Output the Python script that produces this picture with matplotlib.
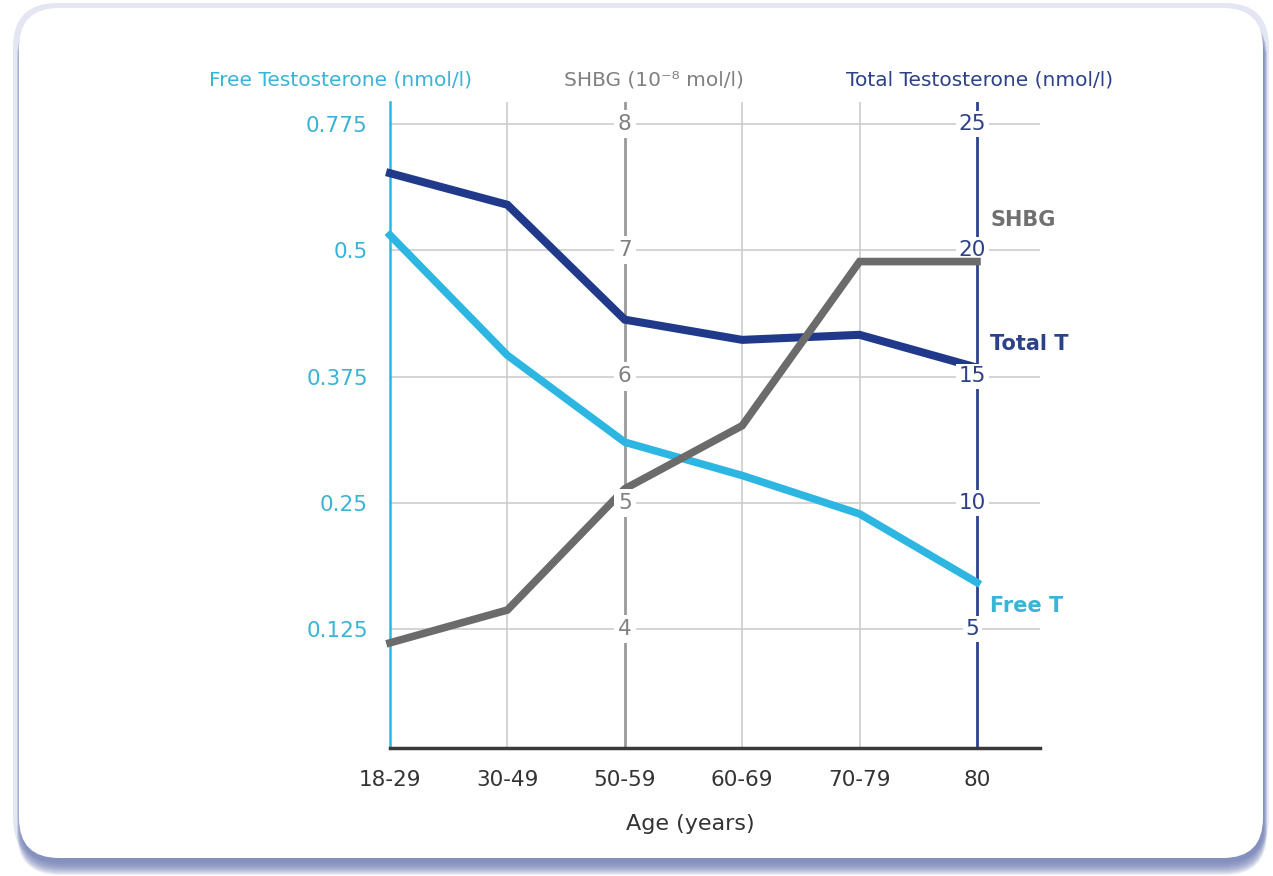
import matplotlib.pyplot as plt
import numpy as np
from matplotlib.patches import FancyBboxPatch
from matplotlib.transforms import blended_transform_factory, IdentityTransform

# data
ages = ['18-29', '30-49', '50-59', '60-69', '70-79', '80']
free_t = [0.515, 0.396, 0.310, 0.277, 0.239, 0.171]
total_t = [23.05, 21.8, 17.25, 16.45, 16.65, 15.35]
shbg = [3.89, 4.15, 5.11, 5.61, 6.91, 6.91]

free_ticks = [0.125, 0.25, 0.375, 0.5, 0.625]
free_labels = ['0.125', '0.25', '0.375', '0.5', '0.775']
total_ticks = [5, 10, 15, 20, 25]
shbg_ticks = [4, 5, 6, 7, 8]

c_free = '#2db6e2'
c_free_txt = '#3ab3d6'
c_total = '#20398a'
c_total_txt = '#2d4189'
c_shbg = '#6b6b6b'
c_shbg_txt = '#808080'
c_grid = '#c9c9c9'

W, H = 1273, 876
fig = plt.figure(figsize=(W / 100, H / 100), dpi=100)
fig.patch.set_facecolor('white')
px = IdentityTransform()


def rbox(x0, y0, w, h, r, color, alpha=1.0):
    # rounded box in pixel coords (y from bottom)
    p = FancyBboxPatch((x0, y0), w, h, boxstyle=f'round,pad=0,rounding_size={r}',
                       transform=px, facecolor=color, edgecolor='none',
                       alpha=alpha, zorder=-5)
    fig.patches.append(p)


# frame with soft blue shadow
rbox(13, 14, 1256, 859, 44, '#e4e6f3')
for k in range(12):
    rbox(17 + k * 0.3, 1 + k, 1250 - k * 0.6, 860 - k, 42, '#6f7cb4', 0.12)
rbox(19, 18, 1244, 850, 40, 'white')

ax = fig.add_axes([390 / W, 128 / H, 650 / W, 646 / H])
ax.patch.set_alpha(0)
x = np.arange(len(ages))
ax.set_xlim(0, 5.537)
ax.set_ylim(0.0072, 0.6468)

ax_t = ax.twinx()
ax_t.set_ylim(0.287, 25.87)
ax_t.axis('off')
ax_s = ax.twinx()
ax_s.set_ylim(3.057, 8.174)
ax_s.axis('off')

# grid
for v in free_ticks:
    ax.axhline(v, color=c_grid, lw=1.1, zorder=1)
for i in [1, 3, 4]:
    ax.axvline(x[i], color=c_grid, lw=1.1, zorder=1)
ax.axvline(x[2], color='#9a9a9a', lw=2, zorder=1)
ax.axvline(x[5], color='#2f4290', lw=2, zorder=1)

for s in ['top', 'right']:
    ax.spines[s].set_visible(False)
ax.spines['left'].set_color(c_free)
ax.spines['left'].set_linewidth(1.8)
ax.spines['bottom'].set_color('#3a3a3a')
ax.spines['bottom'].set_linewidth(2.5)

ax.set_yticks(free_ticks)
ax.set_yticklabels(free_labels, color=c_free_txt, fontsize=15.5)
ax.tick_params(axis='y', length=0, pad=16)
ax.set_xticks(x)
ax.set_xticklabels(ages, color='#333333', fontsize=15.5)
ax.tick_params(axis='x', length=0, pad=16)
ax.set_xlabel('Age (years)', fontsize=16, color='#333333')
ax.xaxis.set_label_coords(0.4615, -0.102)

# inner axis labels with white background
tr_s = blended_transform_factory(ax.transData, ax_s.transData)
for v in shbg_ticks:
    ax_s.text(x[2], v, str(v), transform=tr_s, ha='center', va='center',
              fontsize=15.5, color=c_shbg_txt, zorder=5,
              bbox=dict(facecolor='white', edgecolor='none', pad=3))
tr_t = blended_transform_factory(ax.transData, ax_t.transData)
for v in total_ticks:
    ax_t.text(x[5] - 0.04, v, str(v), transform=tr_t, ha='center', va='center',
              fontsize=15.5, color=c_total_txt, zorder=5,
              bbox=dict(facecolor='white', edgecolor='none', pad=2))

# series
ax.plot(x, free_t, color=c_free, lw=5.5, solid_joinstyle='miter', zorder=3, clip_on=False)
ax_t.plot(x, total_t, color=c_total, lw=5.8, solid_joinstyle='miter', zorder=3, clip_on=False)
ax_s.plot(x, shbg, color=c_shbg, lw=5.5, solid_joinstyle='miter', zorder=4, clip_on=False)

# headers
fig.text(341 / W, 1 - 80 / H, 'Free Testosterone (nmol/l)', ha='center', va='center',
         fontsize=14.5, color=c_free_txt)
fig.text(654 / W, 1 - 80 / H, 'SHBG (10⁻⁸ mol/l)', ha='center', va='center',
         fontsize=14.5, color=c_shbg_txt)
fig.text(980 / W, 1 - 80 / H, 'Total Testosterone (nmol/l)', ha='center', va='center',
         fontsize=14.5, color=c_total_txt)

# series labels
fig.text(990 / W, 1 - 220 / H, 'SHBG', ha='left', va='center', fontsize=15,
         fontweight='bold', color='#707070')
fig.text(990 / W, 1 - 344 / H, 'Total T', ha='left', va='center', fontsize=15,
         fontweight='bold', color=c_total_txt)
fig.text(990 / W, 1 - 606 / H, 'Free T', ha='left', va='center', fontsize=15,
         fontweight='bold', color=c_free_txt)

fig.savefig('out.png', dpi=100, facecolor=fig.get_facecolor())
